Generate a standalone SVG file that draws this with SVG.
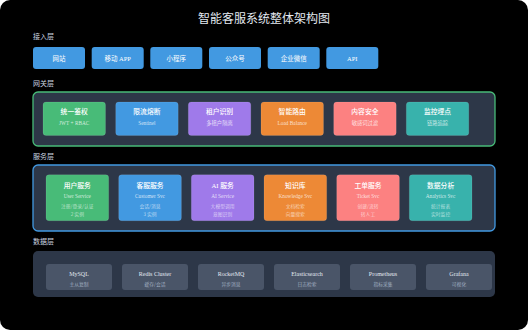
<svg xmlns="http://www.w3.org/2000/svg" width="528" height="330" viewBox="0 0 528 330">
<style>
.cn{font-family:"Noto Sans CJK SC","Noto Sans",sans-serif}
.lat{font-family:"Liberation Serif","Noto Sans CJK SC",serif}
.title{font-size:12px;fill:#e2e8f0;text-anchor:middle}
.layer{font-size:7px;fill:#cbd5e0}
.btn{fill:#4299e1}
.btxt{font-size:6.5px;fill:#ffffff;text-anchor:middle}
.panel{fill:#2d3748}
.node{stroke:rgba(255,255,255,0.12);stroke-width:0.8}
.nt{font-size:6.8px;fill:#ffffff;text-anchor:middle;font-weight:500}
.ns{font-size:5.3px;fill:#ffffff;fill-opacity:0.75;text-anchor:middle}
.ns2{font-size:4.8px;fill:#ffffff;fill-opacity:0.6;text-anchor:middle}
.green{fill:#48bb78}.blue{fill:#4299e1}.purple{fill:#9f7aea}.orange{fill:#ed8936}.pink{fill:#fc8181}.teal{fill:#38b2ac}
.dnode{fill:#4a5568}
.dt{font-size:6px;fill:#e2e8f0;text-anchor:middle}
.ds{font-size:4.8px;fill:#a0aec0;text-anchor:middle}
</style>
<rect x="0" y="0" width="528" height="330" fill="#ffffff"/>
<rect x="0" y="0" width="528" height="330" rx="10" fill="#000000"/>
<text class="cn title" x="264" y="23">智能客服系统整体架构图</text>

<text class="cn layer" x="33" y="39">接入层</text>
<g id="access">
<g id="a1"><rect class="btn" x="33" y="47" width="52" height="22" rx="3"/><text class="cn btxt" x="59" y="60.5">网站</text></g>
<g id="a2"><rect class="btn" x="91.7" y="47" width="52" height="22" rx="3"/><text class="cn btxt" x="117.7" y="60.5">移动 <tspan class="lat">APP</tspan></text></g>
<g id="a3"><rect class="btn" x="150.3" y="47" width="52" height="22" rx="3"/><text class="cn btxt" x="176.3" y="60.5">小程序</text></g>
<g id="a4"><rect class="btn" x="209" y="47" width="52" height="22" rx="3"/><text class="cn btxt" x="235" y="60.5">公众号</text></g>
<g id="a5"><rect class="btn" x="267.7" y="47" width="52" height="22" rx="3"/><text class="cn btxt" x="293.7" y="60.5">企业微信</text></g>
<g id="a6"><rect class="btn" x="326.3" y="47" width="52" height="22" rx="3"/><text class="lat btxt" x="352.3" y="60.5">API</text></g>
</g>

<text class="cn layer" x="33" y="86">网关层</text>
<g id="gateway">
<rect class="panel" x="33" y="92" width="462" height="54" rx="5" stroke="#48bb78" stroke-width="1.3"/>
<g id="g1"><rect class="node green" x="43" y="102" width="62.5" height="33.5" rx="3"/><text class="cn nt" x="74.2" y="114">统一鉴权</text><text class="lat ns" x="74.2" y="124.5">JWT + RBAC</text></g>
<g id="g2"><rect class="node blue" x="115.7" y="102" width="62.5" height="33.5" rx="3"/><text class="cn nt" x="146.9" y="114">限流熔断</text><text class="lat ns" x="146.9" y="124.5">Sentinel</text></g>
<g id="g3"><rect class="node purple" x="188.3" y="102" width="62.5" height="33.5" rx="3"/><text class="cn nt" x="219.5" y="114">租户识别</text><text class="cn ns" x="219.5" y="124.5">多租户隔离</text></g>
<g id="g4"><rect class="node orange" x="261" y="102" width="62.5" height="33.5" rx="3"/><text class="cn nt" x="292.2" y="114">智能路由</text><text class="lat ns" x="292.2" y="124.5">Load Balance</text></g>
<g id="g5"><rect class="node pink" x="333.7" y="102" width="62.5" height="33.5" rx="3"/><text class="cn nt" x="364.9" y="114">内容安全</text><text class="cn ns" x="364.9" y="124.5">敏感词过滤</text></g>
<g id="g6"><rect class="node teal" x="406.3" y="102" width="62.5" height="33.5" rx="3"/><text class="cn nt" x="437.5" y="114">监控埋点</text><text class="cn ns" x="437.5" y="124.5">链路追踪</text></g>
</g>

<text class="cn layer" x="33" y="158.5">服务层</text>
<g id="service">
<rect class="panel" x="33" y="165" width="462" height="66" rx="5" stroke="#4299e1" stroke-width="1.3"/>
<g id="s1"><rect class="node green" x="46" y="174.7" width="62.7" height="46" rx="3"/><text class="cn nt" x="77.3" y="188">用户服务</text><text class="lat ns" x="77.3" y="198">User Service</text><text class="cn ns2" x="77.3" y="207.5">注册/登录/认证</text><text class="cn ns2" x="77.3" y="215.5">2 实例</text></g>
<g id="s2"><rect class="node blue" x="118.7" y="174.7" width="62.7" height="46" rx="3"/><text class="cn nt" x="150" y="188">客服服务</text><text class="lat ns" x="150" y="198">Customer Svc</text><text class="cn ns2" x="150" y="207.5">会话/消息</text><text class="cn ns2" x="150" y="215.5">3 实例</text></g>
<g id="s3"><rect class="node purple" x="191.3" y="174.7" width="62.7" height="46" rx="3"/><text class="cn nt" x="222.6" y="188"><tspan class="lat">AI</tspan> 服务</text><text class="lat ns" x="222.6" y="198">AI Service</text><text class="cn ns2" x="222.6" y="207.5">大模型调用</text><text class="cn ns2" x="222.6" y="215.5">意图识别</text></g>
<g id="s4"><rect class="node orange" x="264" y="174.7" width="62.7" height="46" rx="3"/><text class="cn nt" x="295.3" y="188">知识库</text><text class="lat ns" x="295.3" y="198">Knowledge Svc</text><text class="cn ns2" x="295.3" y="207.5">文档检索</text><text class="cn ns2" x="295.3" y="215.5">向量搜索</text></g>
<g id="s5"><rect class="node pink" x="336.7" y="174.7" width="62.7" height="46" rx="3"/><text class="cn nt" x="368" y="188">工单服务</text><text class="lat ns" x="368" y="198">Ticket Svc</text><text class="cn ns2" x="368" y="207.5">创建/流转</text><text class="cn ns2" x="368" y="215.5">转人工</text></g>
<g id="s6"><rect class="node teal" x="409.3" y="174.7" width="62.7" height="46" rx="3"/><text class="cn nt" x="440.6" y="188">数据分析</text><text class="lat ns" x="440.6" y="198">Analytics Svc</text><text class="cn ns2" x="440.6" y="207.5">统计报表</text><text class="cn ns2" x="440.6" y="215.5">实时监控</text></g>
</g>

<text class="cn layer" x="33" y="244">数据层</text>
<g id="data">
<rect class="panel" x="33" y="251" width="462" height="46" rx="5"/>
<g id="d1"><rect class="dnode" x="46" y="264" width="66" height="26" rx="3"/><text class="lat dt" x="79" y="276">MySQL</text><text class="cn ds" x="79" y="285.5">主从复制</text></g>
<g id="d2"><rect class="dnode" x="122" y="264" width="66" height="26" rx="3"/><text class="lat dt" x="155" y="276">Redis Cluster</text><text class="cn ds" x="155" y="285.5">缓存/会话</text></g>
<g id="d3"><rect class="dnode" x="198" y="264" width="66" height="26" rx="3"/><text class="lat dt" x="231" y="276">RocketMQ</text><text class="cn ds" x="231" y="285.5">异步消息</text></g>
<g id="d4"><rect class="dnode" x="274" y="264" width="66" height="26" rx="3"/><text class="lat dt" x="307" y="276">Elasticsearch</text><text class="cn ds" x="307" y="285.5">日志检索</text></g>
<g id="d5"><rect class="dnode" x="350" y="264" width="66" height="26" rx="3"/><text class="lat dt" x="383" y="276">Prometheus</text><text class="cn ds" x="383" y="285.5">指标采集</text></g>
<g id="d6"><rect class="dnode" x="426" y="264" width="66" height="26" rx="3"/><text class="lat dt" x="459" y="276">Grafana</text><text class="cn ds" x="459" y="285.5">可视化</text></g>
</g>
<g id="connectors"/>
</svg>
